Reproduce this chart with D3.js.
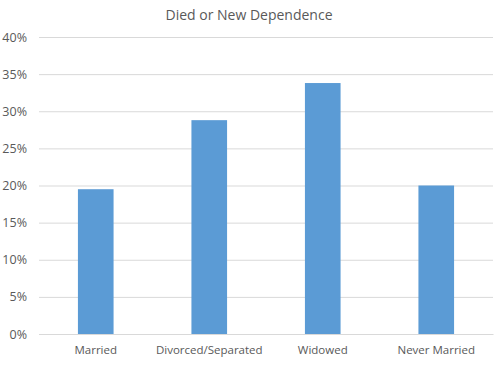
<!DOCTYPE html>
<html lang="en">
<head>
    <meta charset="UTF-8">
    <title>Died or New Dependence</title>
    <script src="https://d3js.org/d3.v7.min.js"></script>
    <style>
        body { margin: 0; background: #fff; }
        text { font-family: "Open Sans", sans-serif; fill: #595959; }
    </style>
</head>
<body>
    <script>
        const categories = ["Married", "Divorced/Separated", "Widowed", "Never Married"];
        const values = [0.195, 0.288, 0.338, 0.200];
        const yTicks = [0, 0.05, 0.10, 0.15, 0.20, 0.25, 0.30, 0.35, 0.40];
        const title = "Died or New Dependence";

        const w = 500;
        const h = 365;
        const padLeft = 39, padRight = 493, padTop = 37, padBottom = 334;

        const xScale = d3.scaleBand()
                         .domain(categories)
                         .range([padLeft, padRight])
                         .paddingInner(0.686)
                         .paddingOuter(0.343);

        const yScale = d3.scaleLinear()
                         .domain([0, 0.4])
                         .range([padBottom, padTop]);

        const svg = d3.select("body")
                      .append("svg")
                      .attr("width", w)
                      .attr("height", h);

        svg.append("text")
           .attr("x", 249)
           .attr("y", 20)
           .attr("text-anchor", "middle")
           .style("font-size", "14px")
           .text(title);

        // gridlines + y labels
        const yAxis = d3.axisLeft(yScale)
                        .tickValues(yTicks)
                        .tickFormat(d3.format(".0%"))
                        .tickSize(-(padRight - padLeft))
                        .tickPadding(12);

        const gy = svg.append("g")
           .attr("transform", "translate(" + padLeft + ",0)")
           .call(yAxis);
        gy.select(".domain").remove();
        gy.selectAll("line").attr("stroke", "#d9d9d9");
        gy.selectAll("text").style("font-size", "12.5px").attr("fill", "#595959");

        svg.selectAll("rect.bar")
           .data(values)
           .enter()
           .append("rect")
           .attr("class", "bar")
           .attr("x", (d, i) => xScale(categories[i]))
           .attr("y", (d) => yScale(d))
           .attr("width", xScale.bandwidth())
           .attr("height", (d) => padBottom - yScale(d))
           .attr("fill", "#5b9bd5");

        const xAxis = d3.axisBottom(xScale).tickSize(0).tickPadding(12);
        const gx = svg.append("g")
           .attr("transform", "translate(0," + padBottom + ")")
           .call(xAxis);
        gx.select(".domain").attr("stroke", "#d9d9d9");
        gx.selectAll("text").style("font-size", "11.5px").attr("fill", "#595959");
    </script>
</body>
</html>
